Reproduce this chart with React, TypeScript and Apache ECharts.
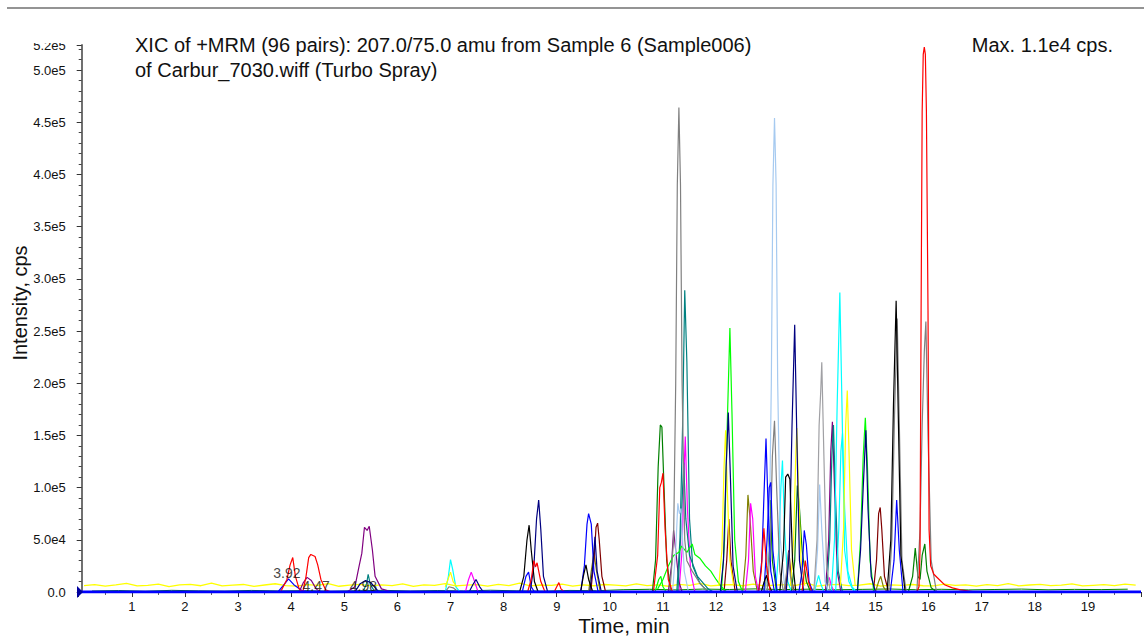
import React, { useEffect, useRef } from "react";
import * as echarts from "echarts";

type Pt = [number, number];

// ---- Axis settings -------------------------------------------------------
const TIME_MIN = 0;
const TIME_MAX = 20;
const TIME_STEP = 1;
const INTENSITY_MAX = 524000;
const INTENSITY_STEP = 50000;

const TITLE_LINE_1 = "XIC of +MRM (96 pairs): 207.0/75.0 amu from Sample 6 (Sample006)";
const TITLE_LINE_2 = "of Carbur_7030.wiff (Turbo Spray)";
const MAX_NOTE = "Max. 1.1e4 cps.";
const X_TITLE = "Time, min";
const Y_TITLE = "Intensity, cps";

// Retention-time labels written next to the early peaks
const PEAK_LABELS: { text: string; at: Pt }[] = [
  { text: "3.92", at: [3.92, 18500] },
  { text: "4.47", at: [4.47, 6000] },
  { text: "4.98", at: [5.36, 6000] },
];

// ---- Traces (time in min, intensity in cps) ------------------------------
const RED: Pt[][] = [
  [[3.8, 0], [3.92, 12000], [3.98, 26000], [4.03, 33000], [4.08, 15000], [4.15, 3000], [4.22, 0]],
  [[4.22, 0], [4.28, 15000], [4.33, 33000], [4.37, 36000], [4.45, 34000], [4.5, 26000], [4.56, 12000], [4.65, 2000], [4.75, 0]],
  [[8.45, 0], [8.52, 12000], [8.57, 30000], [8.6, 24000], [8.63, 28000], [8.7, 10000], [8.78, 0]],
  [[8.95, 0], [9.0, 5000], [9.04, 9000], [9.08, 3000], [9.15, 0]],
  [[10.82, 0], [10.9, 35000], [10.94, 100000], [10.97, 105000], [11.0, 114000], [11.04, 60000], [11.1, 12000], [11.18, 0]],
  [[12.8, 0], [12.85, 20000], [12.9, 61000], [12.95, 25000], [13.02, 0]],
  [[13.62, 0], [13.68, 30000], [13.74, 10000], [13.8, 0]],
  [[15.78, 0], [15.82, 5000], [15.84, 40000], [15.86, 270000], [15.88, 460000], [15.9, 515000], [15.92, 522000], [15.94, 515000], [15.96, 460000], [15.99, 270000], [16.01, 60000], [16.04, 25000], [16.1, 17000], [16.2, 12000], [16.3, 7000], [16.45, 4000], [16.6, 2000], [16.9, 0]],
];

const BLUE: Pt[][] = [
  [[3.75, 0], [3.85, 6000], [3.95, 12500], [4.05, 7000], [4.2, 1500], [4.3, 0]],
  [[8.35, 0], [8.42, 15000], [8.47, 19000], [8.52, 5000], [8.58, 0]],
  [[9.45, 0], [9.52, 25000], [9.57, 65000], [9.6, 75000], [9.65, 65000], [9.7, 20000], [9.78, 0]],
  [[12.8, 0], [12.86, 30000], [12.9, 90000], [12.94, 147000], [12.98, 80000], [13.03, 20000], [13.1, 0]],
  [[12.9, 0], [12.96, 50000], [13.0, 100000], [13.03, 105000], [13.07, 40000], [13.15, 0]],
  [[13.56, 0], [13.62, 20000], [13.66, 59000], [13.7, 45000], [13.75, 10000], [13.82, 0]],
  [[15.28, 0], [15.35, 30000], [15.4, 88000], [15.45, 40000], [15.52, 0]],
];

const NAVY: Pt[][] = [
  [[5.2, 0], [5.3, 8000], [5.4, 11000], [5.5, 9000], [5.65, 0]],
  [[7.35, 0], [7.42, 7000], [7.48, 12000], [7.55, 5000], [7.62, 0]],
  [[8.5, 0], [8.57, 25000], [8.62, 70000], [8.66, 88000], [8.7, 60000], [8.75, 15000], [8.83, 0]],
  [[9.62, 0], [9.67, 20000], [9.72, 53000], [9.76, 20000], [9.84, 0]],
  [[12.08, 0], [12.14, 30000], [12.19, 120000], [12.23, 172000], [12.27, 110000], [12.32, 25000], [12.4, 0]],
  [[13.32, 0], [13.38, 40000], [13.43, 160000], [13.48, 256000], [13.52, 150000], [13.57, 30000], [13.65, 0]],
  [[14.66, 0], [14.72, 40000], [14.77, 100000], [14.82, 155000], [14.86, 80000], [14.92, 15000], [15.0, 0]],
];

const BLACK: Pt[][] = [
  [[8.3, 0], [8.38, 15000], [8.44, 50000], [8.48, 64000], [8.52, 40000], [8.58, 10000], [8.65, 0]],
  [[9.45, 0], [9.5, 15000], [9.55, 26000], [9.6, 12000], [9.68, 0]],
  [[12.85, 0], [12.9, 9000], [12.95, 16000], [13.0, 6000], [13.05, 0]],
  [[13.2, 0], [13.27, 40000], [13.31, 110000], [13.35, 113000], [13.39, 108000], [13.44, 30000], [13.5, 0]],
  [[15.22, 0], [15.29, 50000], [15.34, 180000], [15.39, 279000], [15.43, 170000], [15.48, 35000], [15.56, 0]],
];

const GRAY: Pt[][] = [
  [[6.9, 0], [6.97, 5000], [7.05, 4000], [7.15, 0]],
  [[11.13, 0], [11.2, 50000], [11.24, 200000], [11.27, 390000], [11.3, 464000], [11.33, 390000], [11.36, 200000], [11.41, 50000], [11.45, 30000], [11.55, 20000], [11.7, 8000], [11.85, 0]],
  [[12.96, 0], [13.02, 40000], [13.06, 130000], [13.1, 164000], [13.14, 100000], [13.2, 20000], [13.27, 0]],
  [[13.28, 0], [13.33, 20000], [13.36, 38000], [13.4, 15000], [13.46, 0]],
  [[15.25, 0], [15.31, 50000], [15.36, 170000], [15.41, 262000], [15.45, 160000], [15.5, 30000], [15.58, 0]],
  [[15.78, 0], [15.84, 60000], [15.88, 160000], [15.92, 230000], [15.95, 259000], [15.99, 150000], [16.05, 30000], [16.15, 0]],
];

const SILVER: Pt[][] = [
  [[13.84, 0], [13.9, 50000], [13.94, 160000], [13.97, 192000], [13.99, 220000], [14.03, 130000], [14.08, 25000], [14.15, 0]],
];

const STEEL: Pt[][] = [
  [[11.18, 0], [11.24, 40000], [11.28, 85000], [11.31, 75000], [11.34, 80000], [11.4, 20000], [11.48, 0]],
  [[12.93, 0], [13.0, 50000], [13.04, 200000], [13.07, 390000], [13.1, 454000], [13.13, 390000], [13.16, 200000], [13.21, 50000], [13.3, 0]],
  [[13.85, 0], [13.91, 40000], [13.95, 103000], [13.99, 60000], [14.05, 10000], [14.12, 0]],
];

const TEAL: Pt[][] = [
  [[5.35, 0], [5.42, 8000], [5.45, 17000], [5.49, 7000], [5.58, 0]],
  [[11.26, 0], [11.32, 50000], [11.37, 160000], [11.41, 289000], [11.45, 220000], [11.5, 70000], [11.56, 25000], [11.7, 8000], [11.85, 0]],
  [[11.28, 0], [11.33, 50000], [11.39, 124000], [11.43, 70000], [11.5, 35000], [11.65, 15000], [11.85, 3000], [11.95, 0]],
  [[14.08, 0], [14.14, 50000], [14.18, 130000], [14.21, 160000], [14.25, 90000], [14.3, 20000], [14.38, 0]],
];

const CYAN: Pt[][] = [
  [[6.9, 0], [6.96, 15000], [7.0, 31000], [7.04, 22000], [7.1, 5000], [7.18, 0]],
  [[13.12, 0], [13.18, 40000], [13.22, 100000], [13.25, 126000], [13.29, 60000], [13.35, 10000], [13.42, 0]],
  [[13.85, 0], [13.9, 10000], [13.93, 16000], [13.97, 8000], [14.03, 0]],
  [[14.17, 0], [14.23, 50000], [14.28, 180000], [14.33, 287000], [14.37, 180000], [14.42, 40000], [14.5, 10000], [14.6, 0]],
  [[14.25, 0], [14.31, 60000], [14.35, 135000], [14.38, 152000], [14.42, 80000], [14.48, 20000], [14.56, 5000], [14.65, 0]],
];

const LIME: Pt[][] = [
  [[10.85, 0], [10.92, 12000], [10.96, 15000], [11.0, 5000], [11.06, 0]],
  [[10.9, 3000], [11.0, 12000], [11.1, 25000], [11.2, 35000], [11.3, 38000], [11.35, 44000], [11.45, 38000], [11.55, 46000], [11.6, 36000], [11.7, 32000], [11.8, 25000], [11.9, 20000], [12.0, 12000], [12.1, 5000], [12.2, 0]],
  [[12.1, 0], [12.16, 50000], [12.21, 160000], [12.26, 253000], [12.3, 170000], [12.35, 50000], [12.42, 10000], [12.5, 0]],
  [[14.66, 0], [14.72, 50000], [14.77, 130000], [14.81, 167000], [14.85, 120000], [14.9, 30000], [14.97, 0]],
];

const GREEN: Pt[][] = [
  [[10.8, 0], [10.86, 30000], [10.91, 120000], [10.95, 160000], [10.98, 158000], [11.02, 100000], [11.07, 30000], [11.15, 0]],
  [[12.92, 0], [12.98, 30000], [13.02, 88000], [13.06, 30000], [13.14, 0]],
  [[13.42, 0], [13.48, 30000], [13.53, 102000], [13.57, 80000], [13.62, 40000], [13.7, 10000], [13.78, 0]],
  [[15.62, 0], [15.7, 15000], [15.75, 42000], [15.8, 15000], [15.84, 12000], [15.88, 35000], [15.93, 46000], [15.97, 20000], [16.05, 4000], [16.15, 0]],
];

const MAGENTA: Pt[][] = [
  [[7.28, 0], [7.34, 12000], [7.39, 19000], [7.44, 12000], [7.52, 0]],
  [[11.3, 0], [11.36, 40000], [11.4, 120000], [11.42, 149000], [11.46, 80000], [11.52, 20000], [11.6, 0]],
  [[12.55, 0], [12.61, 30000], [12.65, 85000], [12.69, 70000], [12.74, 15000], [12.8, 0]],
  [[14.05, 0], [14.1, 9000], [14.13, 14000], [14.17, 6000], [14.23, 0]],
];

const PURPLE: Pt[][] = [
  [[4.15, 0], [4.23, 9000], [4.3, 14000], [4.38, 11000], [4.47, 3000], [4.55, 0]],
  [[5.05, 0], [5.2, 5000], [5.28, 25000], [5.33, 37000], [5.38, 62000], [5.43, 59000], [5.47, 63000], [5.53, 40000], [5.58, 15000], [5.7, 3000], [5.9, 0]],
  [[11.1, 0], [11.16, 25000], [11.2, 59000], [11.24, 40000], [11.3, 10000], [11.36, 0]],
  [[14.06, 0], [14.12, 50000], [14.16, 135000], [14.19, 163000], [14.23, 100000], [14.28, 20000], [14.35, 0]],
];

const MAROON: Pt[][] = [
  [[9.64, 0], [9.7, 30000], [9.74, 62000], [9.77, 66000], [9.8, 50000], [9.85, 15000], [9.92, 0]],
  [[12.15, 0], [12.2, 30000], [12.24, 70000], [12.28, 30000], [12.36, 0]],
  [[13.3, 0], [13.34, 20000], [13.37, 40000], [13.41, 15000], [13.47, 0]],
  [[14.96, 0], [15.02, 30000], [15.06, 75000], [15.09, 81000], [15.12, 60000], [15.17, 15000], [15.25, 0]],
];

const OLIVE: Pt[][] = [
  [[9.6, 0], [9.65, 20000], [9.7, 37000], [9.75, 20000], [9.82, 0]],
  [[12.5, 0], [12.56, 35000], [12.6, 93000], [12.64, 70000], [12.7, 20000], [12.78, 0]],
  [[15.0, 0], [15.06, 10000], [15.1, 15000], [15.15, 5000], [15.22, 0]],
];

const YELLOW: Pt[][] = [
  [[6.9, 5000], [6.96, 13000], [7.0, 19000], [7.05, 10000], [7.12, 5000]],
  [[12.05, 6000], [12.11, 40000], [12.15, 120000], [12.18, 155000], [12.21, 100000], [12.26, 30000], [12.33, 6000]],
  [[13.4, 6000], [13.46, 50000], [13.5, 130000], [13.52, 157000], [13.55, 100000], [13.6, 30000], [13.67, 6000]],
  [[14.34, 6000], [14.4, 60000], [14.44, 160000], [14.47, 193000], [14.5, 140000], [14.55, 40000], [14.62, 6000]],
];

// Noisy yellow baseline, one reading every 0.2 min from 0.1 min
const YELLOW_BASELINE = [
  6200, 7100, 5600, 6800, 8300, 5900, 6400, 7600, 5200, 6900,
  7300, 6000, 8600, 5800, 6500, 7200, 5400, 6700, 7900, 6100,
  5700, 7000, 6300, 8100, 5500, 6600, 7400, 5900, 6800, 6200,
  7700, 5300, 6900, 6400, 8000, 5800, 6500, 7100, 5600, 7300,
  6100, 8400, 5900, 6700, 6300, 7500, 5700, 6900, 6000, 7200,
  6600, 5800, 7800, 6200, 6900, 5500, 7300, 6400, 8200, 5900,
  6700, 7100, 6000, 7600, 5800, 6500, 7000, 6300, 8500, 5600,
  6800, 7400, 6100, 6600, 7900, 5700, 6900, 6300, 7200, 6000,
  5800, 7500, 6400, 6900, 5600, 7100, 6200, 8000, 5900, 6700,
  7300, 6100, 6600, 7700, 5800, 6400, 7000, 6200, 7600, 6500,
];

// Low green baseline, one reading every 0.5 min from 0.25 min
const GREEN_BASELINE = [
  900, 1400, 700, 1600, 1100, 800, 1500, 1000, 1300, 700,
  1200, 1600, 900, 1400, 1000, 1700, 1100, 800, 1500, 1200,
  2200, 2600, 2000, 2800, 2400, 3000, 2300, 2700, 2100, 2500,
  2900, 2200, 2600, 2000, 2400, 2800, 2100, 2500, 2300, 2700,
];

const TRACE_COLORS: { color: string; peaks: Pt[][] }[] = [
  { color: "#808000", peaks: OLIVE },
  { color: "#800000", peaks: MAROON },
  { color: "#ff00ff", peaks: MAGENTA },
  { color: "#800080", peaks: PURPLE },
  { color: "#008080", peaks: TEAL },
  { color: "#00ffff", peaks: CYAN },
  { color: "#00ff00", peaks: LIME },
  { color: "#008000", peaks: GREEN },
  { color: "#ffff00", peaks: YELLOW },
  { color: "#a6caf0", peaks: STEEL },
  { color: "#a0a0a4", peaks: SILVER },
  { color: "#808080", peaks: GRAY },
  { color: "#0000ff", peaks: BLUE },
  { color: "#000080", peaks: NAVY },
  { color: "#000000", peaks: BLACK },
  { color: "#ff0000", peaks: RED },
];

const FONT = "'Liberation Sans', Arial, Helvetica, sans-serif";

function lineSeries(color: string, data: Pt[], width = 1.2, z = 2) {
  return {
    type: "line" as const,
    data,
    symbol: "none",
    showSymbol: false,
    silent: true,
    z,
    lineStyle: { color, width },
    emphasis: { disabled: true },
  };
}

function buildOption() {
  const series: any[] = [];
  series.push(
    lineSeries(
      "#ffff00",
      YELLOW_BASELINE.map((v, i) => [0.1 + i * 0.2, v] as Pt),
      1.3,
      1
    )
  );
  series.push(
    lineSeries(
      "#008000",
      GREEN_BASELINE.map((v, i) => [0.25 + i * 0.5, v] as Pt),
      1,
      1
    )
  );
  TRACE_COLORS.forEach(({ color, peaks }) => {
    peaks.forEach((seg) => series.push(lineSeries(color, seg)));
  });
  // zero baseline of the blue trace, drawn over everything else
  series.push(lineSeries("#0000ff", [[TIME_MIN, 0], [TIME_MAX, 0]], 3, 5));
  series.push({
    type: "scatter",
    symbolSize: 0,
    silent: true,
    z: 6,
    data: PEAK_LABELS.map((p) => ({
      value: p.at,
      label: {
        show: true,
        position: "inside",
        formatter: p.text,
        color: "#111",
        fontSize: 14,
        fontFamily: FONT,
      },
    })),
  });

  return {
    animation: false,
    backgroundColor: "#ffffff",
    grid: { left: 78.7, right: 0, top: 45, bottom: 45, containLabel: false },
    xAxis: {
      type: "value",
      min: TIME_MIN,
      max: TIME_MAX,
      interval: TIME_STEP,
      axisLine: { show: true, lineStyle: { color: "#808080", width: 1 } },
      axisTick: { show: true, length: 5, lineStyle: { color: "#333" } },
      minorTick: { show: true, splitNumber: 2, length: 3, lineStyle: { color: "#666" } },
      splitLine: { show: false },
      axisLabel: {
        margin: 8,
        color: "#111",
        fontSize: 13,
        fontFamily: FONT,
        formatter: (v: number) => (v === TIME_MIN || v === TIME_MAX ? "" : String(v)),
      },
    },
    yAxis: {
      type: "value",
      min: 0,
      max: INTENSITY_MAX,
      interval: INTENSITY_STEP,
      offset: -3,
      axisLine: { show: true, lineStyle: { color: "#707070", width: 2 } },
      axisTick: { show: true, length: 5, lineStyle: { color: "#333" } },
      minorTick: { show: true, splitNumber: 5, length: 3, lineStyle: { color: "#444" } },
      splitLine: { show: false },
      axisLabel: {
        margin: 16,
        color: "#111",
        fontSize: 13,
        fontFamily: FONT,
        formatter: (v: number) => (v === 0 ? "0.0" : v.toExponential(1).replace("e+", "e")),
      },
    },
    graphic: [
      {
        type: "line",
        z: 100,
        shape: { x1: 7, y1: 8, x2: 1144, y2: 8 },
        style: { stroke: "#707070", lineWidth: 1.5 },
      },
      {
        type: "rect",
        z: 100,
        shape: { x: 18, y: 24, width: 58, height: 19 },
        style: { fill: "#ffffff" },
      },
      {
        type: "polygon",
        z: 100,
        shape: { points: [[77, 586], [83, 592], [77, 598]] },
        style: { fill: "#0000a0" },
      },
      {
        type: "text",
        z: 100,
        style: { text: TITLE_LINE_1, x: 135, y: 45, font: `20px ${FONT}`, fill: "#111", verticalAlign: "middle" },
      },
      {
        type: "text",
        z: 100,
        style: { text: TITLE_LINE_2, x: 135, y: 70, font: `20px ${FONT}`, fill: "#111", verticalAlign: "middle" },
      },
      {
        type: "text",
        z: 100,
        style: { text: MAX_NOTE, x: 1113, y: 45, font: `20px ${FONT}`, fill: "#111", align: "right", verticalAlign: "middle" },
      },
      {
        type: "text",
        z: 100,
        style: { text: X_TITLE, x: 624, y: 625, font: `21px ${FONT}`, fill: "#111", align: "center", verticalAlign: "middle" },
      },
      {
        type: "text",
        z: 100,
        x: 20,
        y: 303,
        rotation: Math.PI / 2,
        style: { text: Y_TITLE, x: 0, y: 0, font: `20px ${FONT}`, fill: "#111", align: "center", verticalAlign: "middle" },
      },
    ],
    series,
  };
}

export default function App() {
  const ref = useRef<HTMLDivElement>(null);
  useEffect(() => {
    if (!ref.current) return;
    const chart = echarts.init(ref.current, undefined, { renderer: "svg" });
    chart.setOption(buildOption() as any);
    return () => chart.dispose();
  }, []);
  return (
    <div
      ref={ref}
      style={{ position: "fixed", left: 0, top: 0, width: 1144, height: 637, background: "#fff" }}
    />
  );
}
